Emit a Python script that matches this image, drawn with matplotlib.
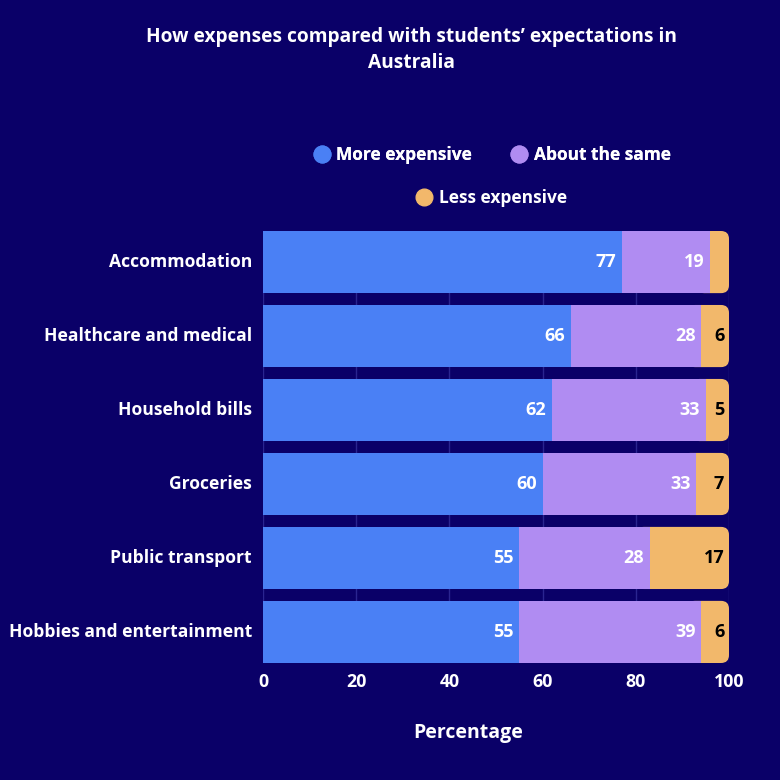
import numpy as np
import matplotlib
matplotlib.use("Agg")
import matplotlib.pyplot as plt
import matplotlib.transforms as mtrans
from matplotlib.lines import Line2D
from matplotlib.patches import FancyBboxPatch

### Data
categories = ["Accommodation", "Healthcare and medical", "Household bills",
              "Groceries", "Public transport", "Hobbies and entertainment"]
more_expensive = [77, 66, 62, 60, 55, 55]
about_same = [19, 28, 33, 33, 28, 39]
less_expensive = [4, 6, 5, 7, 17, 6]
series_names = ["More expensive", "About the same", "Less expensive"]
x_ticks = [0, 20, 40, 60, 80, 100]

### Style
BG = "#0a0068"
colors = ["#4a80f5", "#b08cf2", "#f2b86b"]
plt.rcParams["font.family"] = ["Open Sans", "DejaVu Sans"]
plt.rcParams["font.weight"] = "bold"

fig = plt.figure(figsize=(7.8, 7.8), dpi=100, facecolor=BG)
ax = fig.add_axes([263 / 780, 1 - 663 / 780, 466 / 780, 432 / 780])
ax.set_facecolor(BG)

y = np.arange(len(categories))
h = 0.84
more = np.array(more_expensive)
same = np.array(about_same)
less = np.array(less_expensive)

# Orange (last) segment gets a rounded right end
less_bars = ax.barh(y, less, left=more + same, height=h, color=colors[2], zorder=2)
for rect in less_bars.patches:
    x0, y0 = rect.get_x(), rect.get_y()
    w, hh = rect.get_width(), rect.get_height()
    rect.set_visible(False)
    rr = FancyBboxPatch((x0 - 3, y0), w + 3, hh,
                        boxstyle="round,pad=0,rounding_size=1.7",
                        mutation_aspect=0.063, facecolor=colors[2],
                        edgecolor="none", zorder=2)
    ax.add_patch(rr)

more_bars = ax.barh(y, more, height=h, color=colors[0], zorder=3)
same_bars = ax.barh(y, same, left=more, height=h, color=colors[1], zorder=3)

# Value labels, right-aligned inside the end of each segment
for bars, vals in [(more_bars, more), (same_bars, same)]:
    texts = ax.bar_label(bars, labels=[str(v) for v in vals], label_type="edge",
                         padding=-4, color="white", fontsize=13, fontweight="bold",
                         zorder=5)
    for t in texts:
        t.set_ha("right")
for yi, v, l in zip(y, less, more + same + less):
    if v >= 5:
        ax.text(l - 1.0, yi, str(v), ha="right", va="center", color="black",
                fontsize=13, fontweight="bold", zorder=5)

ax.set_ylim(len(categories) - 1 + h / 2, -h / 2)
ax.set_xlim(0, 100)
ax.set_yticks(y)
ax.set_yticklabels(categories, fontsize=12.6, fontweight="bold", color="white")
ax.set_xticks(x_ticks)
ax.set_xticklabels([str(t) for t in x_ticks], fontsize=12.8, fontweight="bold", color="white")
ax.tick_params(length=0)
ax.tick_params(axis="y", pad=8)
ax.tick_params(axis="x", pad=7)
lift = mtrans.ScaledTranslation(0, 2 / 100, fig.dpi_scale_trans)
for lab in ax.get_yticklabels():
    lab.set_transform(lab.get_transform() + lift)
for s in ax.spines.values():
    s.set_visible(False)
ax.grid(axis="x", color="#2a2590", linewidth=1, zorder=0)
ax.set_axisbelow(True)

ax.set_xlabel("Percentage", fontsize=14, fontweight="bold", color="white")
ax.xaxis.set_label_coords(205 / 466, -0.14)

fig.text(411 / 780, 1 - 50 / 780,
         "How expenses compared with students’ expectations in\nAustralia",
         ha="center", va="center", color="white", fontsize=13.8, fontweight="bold",
         linespacing=1.45)

# Legend: two rows, centred over the bars
handles = [Line2D([], [], marker="o", linestyle="none", markersize=12,
                  markerfacecolor=c, markeredgecolor=c) for c in colors]
leg1 = fig.legend(handles[:2], series_names[:2], loc="center",
                  bbox_to_anchor=(492 / 780, 1 - 155 / 780), ncol=2, frameon=False,
                  handlelength=1.0, handletextpad=0.35, columnspacing=2.2,
                  prop={"size": 12.5, "weight": "bold"}, labelcolor="white")
leg2 = fig.legend(handles[2:], series_names[2:], loc="center",
                  bbox_to_anchor=(491 / 780, 1 - 198 / 780), frameon=False,
                  handlelength=1.0, handletextpad=0.35,
                  prop={"size": 12.5, "weight": "bold"}, labelcolor="white")
fig.add_artist(leg1)

fig.savefig("out.png", dpi=100, facecolor=BG)
